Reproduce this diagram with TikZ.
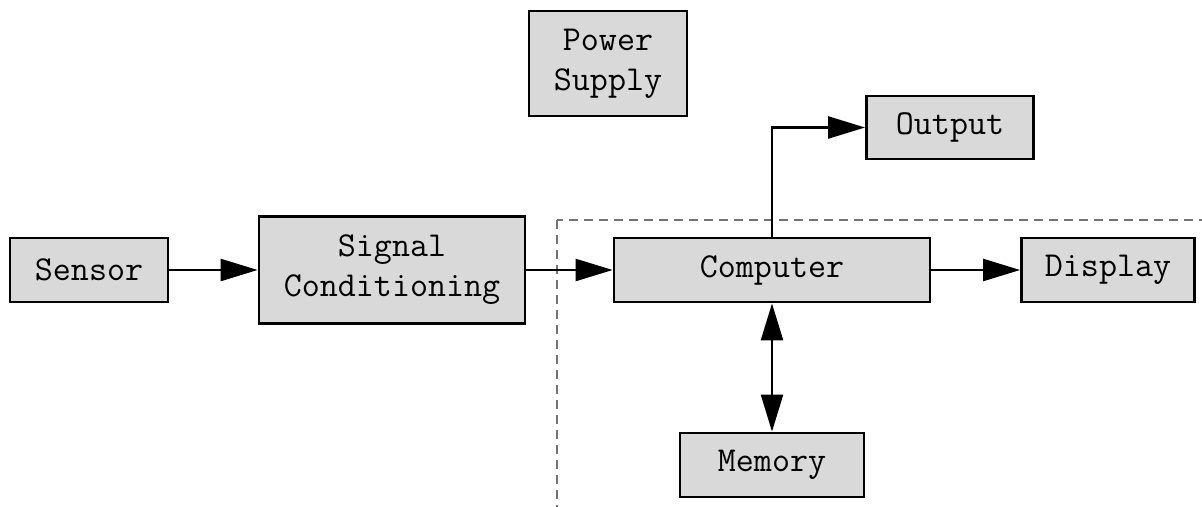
\documentclass[tikz,border=0pt]{standalone}
\usetikzlibrary{arrows.meta}
\definecolor{boxgray}{RGB}{217,217,217}
\definecolor{dashgray}{RGB}{115,115,115}
\begin{document}
\begin{tikzpicture}[x=1pt,y=-1pt,
  blk/.style={draw,line width=2.8pt,fill=boxgray,inner sep=0pt,
    font=\ttfamily\fontsize{35}{40}\selectfont,align=center},
  arr/.style={line width=2.4pt,-{Triangle[length=37pt,width=22pt]}},
  darr/.style={line width=2.4pt,{Triangle[length=37pt,width=22pt]}-{Triangle[length=37pt,width=22pt]}},
  grp/.style={draw=dashgray,line width=1.2pt,dash pattern=on 9pt off 6pt}]
\useasboundingbox (0,0) rectangle (1202,506);
\begin{scope}
  \clip (0,0) rectangle (1202,506);
  \draw[grp] (557,220) rectangle (1230,540);
\end{scope}
\node[blk,minimum width=158pt,minimum height=105pt] (power) at (608,63.5) {Power\\Supply};
\node[blk,minimum width=158pt,minimum height=64pt] (sensor) at (89,270) {Sensor};
\node[blk,minimum width=266pt,minimum height=107pt] (sigcond) at (392,270) {Signal\\Conditioning};
\node[blk,minimum width=316pt,minimum height=64pt] (computer) at (772,270) {Computer};
\node[blk,minimum width=173pt,minimum height=64pt] (display) at (1108,270) {Display};
\node[blk,minimum width=167pt,minimum height=63pt] (output) at (950,127.5) {Output};
\node[blk,minimum width=184pt,minimum height=64pt] (memory) at (772,465) {Memory};
\draw[arr] (sensor) -- (sigcond);
\draw[arr] (sigcond) -- (computer);
\draw[arr] (computer) -- (display);
\draw[arr] (computer.north) |- (output.west);
\draw[darr] (computer.south) -- (memory.north);
\end{tikzpicture}
\end{document}
